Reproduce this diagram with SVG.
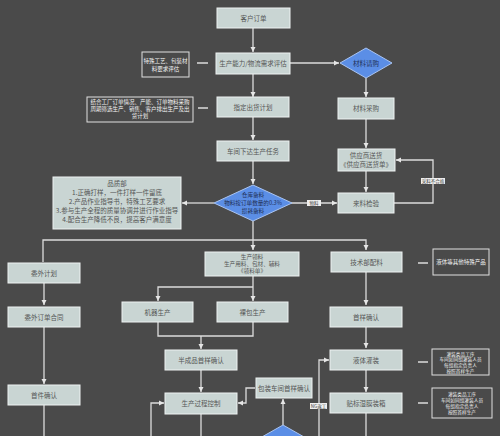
<svg xmlns="http://www.w3.org/2000/svg" width="500" height="436" viewBox="0 0 500 436">
<defs>
<marker id="ah" markerWidth="6" markerHeight="6" refX="5" refY="3" orient="auto" markerUnits="userSpaceOnUse">
<path d="M0,0.5 L5,3 L0,5.5 z" fill="#e6e6e6"/>
</marker>
<style>
.n{fill:#c9d5d3;stroke:#eef2f2;stroke-width:1}
.d{fill:#5b8ee6;stroke:#a9c4f2;stroke-width:1}
.note{fill:#4a4a4a;stroke:#e0e0e0;stroke-width:1}
.t{font-family:"Noto Sans CJK SC","Liberation Sans",sans-serif;font-size:6.5px;fill:#555;text-anchor:middle}
.ts{font-family:"Noto Sans CJK SC","Liberation Sans",sans-serif;font-size:5.6px;fill:#555;text-anchor:middle}
.tw{font-family:"Noto Sans CJK SC","Liberation Sans",sans-serif;font-size:5.5px;fill:#f2f2f2;text-anchor:middle}
.tw2{font-family:"Noto Sans CJK SC","Liberation Sans",sans-serif;font-size:4.7px;fill:#f2f2f2;text-anchor:middle}
.td{font-family:"Noto Sans CJK SC","Liberation Sans",sans-serif;font-size:6.5px;fill:#1f2f55;text-anchor:middle}
.tds{font-family:"Noto Sans CJK SC","Liberation Sans",sans-serif;font-size:5.6px;fill:#1f2f55;text-anchor:middle}
.c{fill:none;stroke:#dcdcdc;stroke-width:1.3}
.lbl{fill:#eeeeee}
.lt{font-family:"Noto Sans CJK SC","Liberation Sans",sans-serif;font-size:4.5px;fill:#444;text-anchor:middle}
</style>
</defs>
<rect width="500" height="436" fill="#4a4a4a"/>

<g id="connectors">
<path class="c" d="M253,28 V52" marker-end="url(#ah)"/>
<path class="c" d="M290,63 H339" marker-end="url(#ah)"/>
<path class="c" d="M253,74 V97" marker-end="url(#ah)"/>
<path class="c" d="M253,117 V140" marker-end="url(#ah)"/>
<path class="c" d="M253,161 V184" marker-end="url(#ah)"/>
<path class="c" d="M366,78 V97" marker-end="url(#ah)"/>
<path class="c" d="M366,119 V148" marker-end="url(#ah)"/>
<path class="c" d="M366,171 V192" marker-end="url(#ah)"/>
<path class="c" d="M394,203 H433 V160 H396" marker-end="url(#ah)"/>
<path class="c" d="M214,203 H182" marker-end="url(#ah)"/>
<path class="c" d="M291,203 H337" marker-end="url(#ah)"/>
<path class="c" d="M253,221 V250" marker-end="url(#ah)"/>
<path class="c" d="M43,262 V240 H366 V250" marker-end="url(#ah)"/>
<path class="c" d="M44,283 V305" marker-end="url(#ah)"/>
<path class="c" d="M44,327 V384" marker-end="url(#ah)"/>
<path class="c" d="M44,405 V436"/>
<path class="c" d="M253,276 V301" marker-end="url(#ah)"/>
<path class="c" d="M253,287 H158 V301" marker-end="url(#ah)"/>
<path class="c" d="M158,322 V336 H253 V322"/>
<path class="c" d="M201,336 V349" marker-end="url(#ah)"/>
<path class="c" d="M201,370 V392" marker-end="url(#ah)"/>
<path class="c" d="M201,414 V436"/>
<path class="c" d="M151,436 V403 H164" marker-end="url(#ah)"/>
<path class="c" d="M255,388 H246 V403 H238" marker-end="url(#ah)"/>
<path class="c" d="M283,425 V399" marker-end="url(#ah)"/>
<path class="c" d="M366,272 V305" marker-end="url(#ah)"/>
<path class="c" d="M366,327 V348" marker-end="url(#ah)"/>
<path class="c" d="M366,370 V392" marker-end="url(#ah)"/>
<path class="c" d="M366,413 V436"/>
<path class="c" d="M319,436 V360 H329" marker-end="url(#ah)"/>
<path class="c" d="M197,63 H208 M198,108 H208 M418,263 H428 M418,362 H428 M418,403 H428"/>
<rect class="lbl" x="421" y="178" width="24" height="6"/>
<text class="lt" x="433" y="182.6">采料不合格</text>
<rect class="lbl" x="307" y="200" width="14" height="6"/>
<text class="lt" x="314" y="204.6">物料</text>
<rect class="lbl" x="310" y="403" width="17" height="6"/>
<text class="lt" x="318.5" y="407.6">NG返工</text>
</g>

<g id="n1"><rect class="n" x="217" y="8" width="73" height="20"/><text class="t" x="253.5" y="20.5">客户订单</text></g>
<g id="n2"><rect class="n" x="216" y="53" width="74" height="21"/><text class="t" x="253" y="66">生产能力/物流需求评估</text></g>
<g id="note1"><rect class="note" x="142" y="52" width="47" height="25"/><text class="tw" x="165.5" y="63">特殊工艺、包装材</text><text class="tw" x="165.5" y="71">料要求评估</text></g>
<g id="d1"><path class="d" d="M366,48 L392,63 L366,78 L340,63 z"/><text class="td" x="366" y="65.5">材料请购</text></g>
<g id="n3"><rect class="n" x="338" y="98" width="56" height="21"/><text class="t" x="366" y="111">材料采购</text></g>
<g id="n4"><rect class="n" x="338" y="149" width="57" height="22"/><text class="t" x="366" y="158">供应商送货</text><text class="t" x="366" y="166.5">《供应商送货单》</text></g>
<g id="n5"><rect class="n" x="338" y="193" width="56" height="20"/><text class="t" x="366" y="205.5">来料检验</text></g>
<g id="n6"><rect class="n" x="217" y="97" width="72" height="20"/><text class="t" x="253" y="109.5">指定出货计划</text></g>
<g id="note2"><rect class="note" x="87" y="97" width="106" height="25"/><text class="tw" x="140" y="104">结合工厂订单情况、产能、订单物料采购</text><text class="tw" x="140" y="111">周期筛选生产、销售、客户排出生产及出</text><text class="tw" x="140" y="118">货计划</text></g>
<g id="n7"><rect class="n" x="217" y="141" width="72" height="20"/><text class="t" x="253" y="153.5">车间下达生产任务</text></g>
<g id="q"><rect class="n" x="53" y="177" width="128" height="52"/>
<text class="t" x="117" y="186">品质部</text>
<text class="t" x="117" y="195">1.正确打样，一件打样一件留底</text>
<text class="t" x="117" y="204">2.产品作业指导书，特殊工艺要求</text>
<text class="t" x="117" y="213">3.参与生产全程的质量协调并进行作业指导</text>
<text class="t" x="117" y="222">4.配合生产降低不良，提高客户满意度</text></g>
<g id="d2"><path class="d" d="M253,185 L292,203 L253,221 L214,203 z"/><text class="tds" x="253" y="197">仓库备料</text><text class="tds" x="253" y="205">物料按订单数量的0.3%</text><text class="tds" x="253" y="213">损耗备料</text></g>
<g id="n8"><rect class="n" x="8" y="263" width="72" height="20"/><text class="t" x="44" y="275.5">委外计划</text></g>
<g id="n9"><rect class="n" x="8" y="307" width="72" height="20"/><text class="t" x="44" y="319.5">委外订单合同</text></g>
<g id="n10"><rect class="n" x="8" y="385" width="72" height="20"/><text class="t" x="44" y="397.5">首件确认</text></g>
<g id="n11"><rect class="n" x="205" y="252" width="94" height="24"/><text class="ts" x="252" y="258.8">生产领料</text><text class="ts" x="252" y="266">生产用料、包材、辅料</text><text class="ts" x="252" y="273.2">《领料单》</text></g>
<g id="n12"><rect class="n" x="122" y="302" width="71" height="20"/><text class="t" x="157.5" y="314.5">机器生产</text></g>
<g id="n13"><rect class="n" x="217" y="302" width="71" height="20"/><text class="t" x="252.5" y="314.5">裸包生产</text></g>
<g id="n14"><rect class="n" x="165" y="350" width="72" height="20"/><text class="t" x="201" y="362.5">半成品首样确认</text></g>
<g id="n15"><rect class="n" x="165" y="393" width="72" height="21"/><text class="t" x="201" y="406">生产过程控制</text></g>
<g id="n16"><rect class="n" x="256" y="378" width="56" height="20"/><text class="t" x="284" y="390.5">包装车间首样确认</text></g>
<g id="d3"><path class="d" d="M283,425 L320,446 L283,467 L246,446 z"/></g>
<g id="n17"><rect class="n" x="331" y="252" width="71" height="20"/><text class="t" x="366.5" y="264.5">技术部配料</text></g>
<g id="note3"><rect class="note" x="433" y="249" width="56" height="26"/><text class="tw" x="461" y="264">液体等其他特殊产品</text></g>
<g id="n18"><rect class="n" x="330" y="307" width="72" height="20"/><text class="t" x="366" y="319.5">首样确认</text></g>
<g id="n19"><rect class="n" x="330" y="350" width="72" height="20"/><text class="t" x="366" y="362.5">液体灌装</text></g>
<g id="n20"><rect class="n" x="330" y="393" width="72" height="20"/><text class="t" x="366" y="405.5">贴标湿膜装箱</text></g>
<g id="note4"><rect class="note" x="432" y="349" width="57" height="26"/><text class="tw2" x="460.5" y="355.5">灌装类品工序</text><text class="tw2" x="460.5" y="361.3">车间如同组灌装人员</text><text class="tw2" x="460.5" y="367.1">每组指定负责人</text><text class="tw2" x="460.5" y="372.9">按照首样生产</text></g>
<g id="note5"><rect class="note" x="432" y="388" width="60" height="30"/><text class="tw2" x="462" y="396">灌装类品工序</text><text class="tw2" x="462" y="402">车间如同组灌装人员</text><text class="tw2" x="462" y="408">每组指定负责人</text><text class="tw2" x="462" y="414">按照首样生产</text></g>
</svg>
